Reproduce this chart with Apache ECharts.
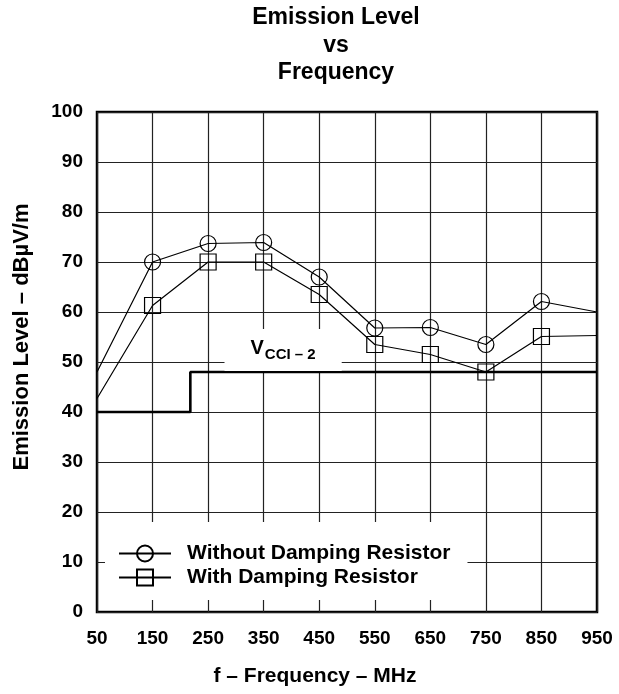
<!DOCTYPE html>
<html>
<head>
<meta charset="utf-8">
<script src="https://cdn.jsdelivr.net/npm/echarts@6/dist/echarts.min.js"></script>
<style>
  html, body { margin: 0; padding: 0; background: #fff; }
  #chart { width: 619px; height: 694px; }
</style>
</head>
<body>
<div id="chart"></div>
<script>
// Frequency points (MHz) where emission was measured
const freq = [50, 150, 250, 350, 450, 550, 650, 750, 850, 950];
// Emission level (dBµV/m) for each configuration
const withoutDamping = [48, 70, 73.7, 73.9, 67, 56.8, 56.9, 53.5, 62.1, 60];
const withDamping = [42.7, 61.3, 70, 70, 63.5, 53.5, 51.5, 48, 55.1, 55.3];
// VCCI class 2 limit (stepped)
const limitFreq = [50, 218, 218, 950];
const limitLevel = [40, 40, 48, 48];
// Axis ranges
const xMin = 50, xMax = 950, xStep = 100;
const yMin = 0, yMax = 100, yStep = 10;

const FONT = '"Liberation Sans", Arial, Helvetica, sans-serif';

// measured points: markers only at the inner frequencies
function toPoints(levels) {
  return freq.map((f, i) => {
    const item = { value: [f, levels[i]] };
    if (i === 0 || i === freq.length - 1) item.symbol = 'none';
    return item;
  });
}

const chart = echarts.init(document.getElementById('chart'), null, { renderer: 'canvas' });

const option = {
  animation: false,
  backgroundColor: '#fff',
  textStyle: { fontFamily: FONT },
  graphic: [{
    type: 'text',
    x: 336, y: 4,
    style: {
      text: 'Emission Level\nvs\nFrequency',
      textAlign: 'center',
      fontFamily: FONT,
      fontWeight: 'bold',
      fontSize: 23,
      lineHeight: 27.5,
      fill: '#000'
    }
  }],
  grid: {
    left: 97, top: 112, width: 500, height: 500,
    show: true,
    borderColor: '#000',
    borderWidth: 2.5,
    backgroundColor: 'transparent'
  },
  legend: {
    data: ['Without Damping Resistor', 'With Damping Resistor'],
    orient: 'vertical',
    left: 105, top: 522,
    padding: [21, 17, 12, 13],
    backgroundColor: '#fff',
    itemWidth: 52, itemHeight: 20, itemGap: 3,
    textStyle: { fontFamily: FONT, fontWeight: 'bold', fontSize: 21, lineHeight: 20, color: '#000', padding: [0, 0, 0, 11] }
  },
  xAxis: {
    type: 'value',
    min: xMin, max: xMax, interval: xStep,
    name: 'f – Frequency – MHz',
    nameLocation: 'middle',
    nameGap: 54,
    nameTextStyle: { fontFamily: FONT, fontWeight: 'bold', fontSize: 21, color: '#000', padding: [0, 64, 0, 0] },
    axisLine: { show: false },
    axisTick: { show: false },
    axisLabel: { margin: 17, fontFamily: FONT, fontWeight: 'bold', fontSize: 19, color: '#000' },
    splitLine: { show: true, lineStyle: { color: '#222', width: 1.2 } }
  },
  yAxis: {
    type: 'value',
    min: yMin, max: yMax, interval: yStep,
    name: 'Emission Level – dBµV/m',
    nameLocation: 'middle',
    nameGap: 64,
    nameRotate: 90,
    nameTextStyle: { fontFamily: FONT, fontWeight: 'bold', fontSize: 22, color: '#000', padding: [0, 0, 0, 50] },
    axisLine: { show: false },
    axisTick: { show: false },
    axisLabel: { margin: 14, fontFamily: FONT, fontWeight: 'bold', fontSize: 19, color: '#000' },
    splitLine: { show: true, lineStyle: { color: '#222', width: 1.2 } }
  },
  series: [
    {
      name: 'V_CCI-2 limit',
      type: 'line',
      data: limitFreq.map((f, i) => [f, limitLevel[i]]),
      symbol: 'none',
      lineStyle: { color: '#000', width: 2.6 },
      z: 3,
      markPoint: {
        symbol: 'rect', symbolSize: 1,
        itemStyle: { color: 'rgba(0,0,0,0)' },
        data: [{ coord: [385, 52.4] }],
        label: {
          show: true,
          position: 'inside',
          formatter: '{v|V}{s|CCI – 2}',
          backgroundColor: '#fff',
          padding: [6, 26, 9, 26],
          rich: {
            v: { fontFamily: FONT, fontWeight: 'bold', fontSize: 20, color: '#000' },
            s: { fontFamily: FONT, fontWeight: 'bold', fontSize: 15, color: '#000', padding: [12, 0, 0, 1] }
          }
        }
      }
    },
    {
      name: 'Without Damping Resistor',
      type: 'line',
      data: toPoints(withoutDamping),
      symbol: 'circle',
      symbolSize: 16,
      lineStyle: { color: '#000', width: 1.2 },
      itemStyle: { color: 'rgba(0,0,0,0)', borderColor: '#000', borderWidth: 1.2 },
      z: 4
    },
    {
      name: 'With Damping Resistor',
      type: 'line',
      data: toPoints(withDamping),
      symbol: 'rect',
      symbolSize: 16,
      lineStyle: { color: '#000', width: 1.2 },
      itemStyle: { color: 'rgba(0,0,0,0)', borderColor: '#000', borderWidth: 1.2 },
      z: 4
    }
  ]
};

chart.setOption(option);
</script>
</body>
</html>
